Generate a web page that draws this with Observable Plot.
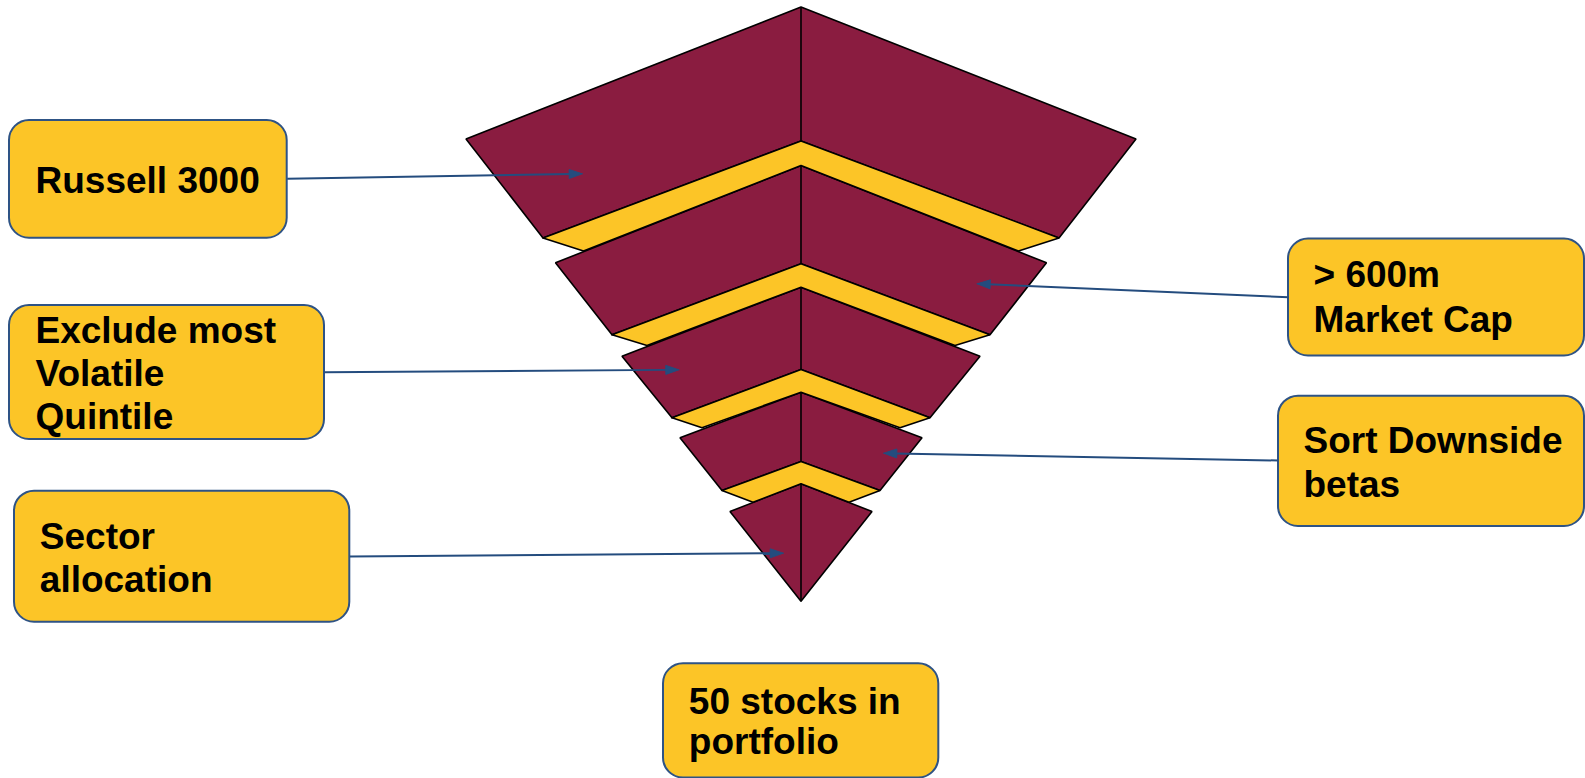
<!DOCTYPE html>
<html>
<head>
<meta charset="utf-8">
<script src="https://cdn.jsdelivr.net/npm/d3@7"></script>
<script src="https://cdn.jsdelivr.net/npm/@observablehq/plot@0.6"></script>
<style>
  html, body { margin: 0; padding: 0; background: #ffffff; overflow: hidden; }
  #chart svg { display: block; }
</style>
</head>
<body>
<div id="chart"></div>
<script>
// ---------- Funnel layers (maroon chevrons), pixel-space geometry ----------
const centerX = 800.5;
const layerTopY       = [6.5, 165, 286.7, 391.7, 483.3];
const layerCornerY    = [138.4, 262.3, 355.7, 437.3, 511];
const layerCornerHalf = [335, 245.5, 179, 121, 71];
const layerBottomY    = [237.4, 334.3, 417.3, 490, 600.7];
const layerBottomHalf = [258, 189, 129, 79, 0];
const layerInnerY     = [140.5, 263.3, 369, 461, 600.7];

// ---------- Yellow bands between layers ----------
const bandEndY    = [250.5, 345, 427.3, 501.7];
const bandEndHalf = [217.5, 154, 99, 48];

// ---------- Label boxes ----------
const labelLines = [
  ["Russell 3000"],
  ["> 600m", "Market Cap"],
  ["Sort Downside", "betas"],
  ["Exclude most", "Volatile", "Quintile"],
  ["Sector", "allocation"],
  ["50 stocks in", "portfolio"]
];
const boxX1 = [9, 1288, 1278, 9, 14, 663];
const boxX2 = [286.7, 1584, 1584, 324, 349.3, 938.3];
const boxY1 = [120, 238.5, 395.7, 305, 490.7, 663.3];
const boxY2 = [237.7, 355.5, 526, 439, 621.7, 777.5];
const textX = [35, 1313, 1303, 35, 39.3, 688.3];
const lastBaseline = [192.7, 331.7, 496.7, 428.3, 591.7, 753];
const lineGap = [43, 45, 44, 43, 43.4, 40];

// ---------- Arrows (box -> layer) ----------
const arrowFromX = [286.7, 1288, 324, 1278, 349.3];
const arrowFromY = [178.3, 296.7, 371.7, 460, 556];
const arrowToX   = [581.7, 976.7, 678.3, 883.3, 782.7];
const arrowToY   = [173.3, 283.3, 369.3, 452.7, 552.7];

const MAROON = "#8A1C40";
const YELLOW = "#FCC527";
const BOXSTROKE = "#2E5385";
const ARROW = "#244C7E";

// Build polygons
const layerPts = [];
layerTopY.forEach((ty, i) => {
  const pts = [
    [centerX, ty],
    [centerX + layerCornerHalf[i], layerCornerY[i]],
    [centerX + layerBottomHalf[i], layerBottomY[i]],
    [centerX, layerInnerY[i]],
    [centerX - layerBottomHalf[i], layerBottomY[i]],
    [centerX - layerCornerHalf[i], layerCornerY[i]],
    [centerX, ty]
  ];
  pts.forEach(([x, y]) => layerPts.push({id: "L" + i, x, y}));
});
const centerLines = layerTopY.map((ty, i) => ({x: centerX, y1: ty, y2: layerInnerY[i]}));

const bandPts = [];
bandEndY.forEach((ey, i) => {
  const pts = [
    [centerX - layerBottomHalf[i], layerBottomY[i]],
    [centerX, layerInnerY[i]],
    [centerX + layerBottomHalf[i], layerBottomY[i]],
    [centerX + bandEndHalf[i], ey],
    [centerX, layerTopY[i + 1]],
    [centerX - bandEndHalf[i], ey],
    [centerX - layerBottomHalf[i], layerBottomY[i]]
  ];
  pts.forEach(([x, y]) => bandPts.push({id: "B" + i, x, y}));
});

const boxes = boxX1.map((x1, i) => ({x1, x2: boxX2[i], y1: boxY1[i], y2: boxY2[i]}));
const texts = [];
labelLines.forEach((lines, i) => {
  const n = lines.length;
  lines.forEach((t, j) => texts.push({x: textX[i], y: lastBaseline[i] - (n - 1 - j) * lineGap[i], t}));
});

const arrows = arrowFromX.map((x, i) => ({x1: x, y1: arrowFromY[i], x2: arrowToX[i], y2: arrowToY[i]}));
const headPts = [];
const headLen = 13, headHalf = 4.5;
arrows.forEach((a, i) => {
  const dx = a.x2 - a.x1, dy = a.y2 - a.y1, L = Math.hypot(dx, dy);
  const ux = dx / L, uy = dy / L, nx = -uy, ny = ux;
  const bx = a.x2 - ux * headLen, by = a.y2 - uy * headLen;
  [[a.x2, a.y2], [bx + nx * headHalf, by + ny * headHalf], [bx - nx * headHalf, by - ny * headHalf], [a.x2, a.y2]]
    .forEach(([x, y]) => headPts.push({id: "H" + i, x, y}));
});
const shafts = arrows.map(a => {
  const dx = a.x2 - a.x1, dy = a.y2 - a.y1, L = Math.hypot(dx, dy);
  return {x1: a.x1, y1: a.y1, x2: a.x2 - dx / L * (headLen - 2), y2: a.y2 - dy / L * (headLen - 2)};
});

const chart = Plot.plot({
  width: 1585,
  height: 778,
  margin: 0,
  x: {domain: [0, 1585], axis: null},
  y: {domain: [0, 778], reverse: true, axis: null},
  style: {background: "#ffffff", fontFamily: "'Liberation Sans', Arial, sans-serif"},
  marks: [
    Plot.line(layerPts, {x: "x", y: "y", z: "id", fill: MAROON, stroke: "#000", strokeWidth: 1.6, strokeLinejoin: "miter", curve: "linear"}),
    Plot.line(bandPts, {x: "x", y: "y", z: "id", fill: YELLOW, stroke: "#000", strokeWidth: 1.6, strokeLinejoin: "miter", curve: "linear"}),
    Plot.link(centerLines, {x1: "x", x2: "x", y1: "y1", y2: "y2", stroke: "#000", strokeWidth: 1.6}),
    Plot.rect(boxes, {x1: "x1", x2: "x2", y1: "y1", y2: "y2", rx: 20, fill: YELLOW, stroke: BOXSTROKE, strokeWidth: 2}),
    Plot.text(texts, {x: "x", y: "y", text: "t", textAnchor: "start", lineAnchor: "bottom", fontSize: 37, fontWeight: "bold", fill: "#000"}),
    Plot.link(shafts, {x1: "x1", y1: "y1", x2: "x2", y2: "y2", stroke: ARROW, strokeWidth: 2}),
    Plot.line(headPts, {x: "x", y: "y", z: "id", fill: ARROW, stroke: ARROW, strokeWidth: 1, curve: "linear"})
  ]
});
document.getElementById("chart").appendChild(chart);
</script>
</body>
</html>
